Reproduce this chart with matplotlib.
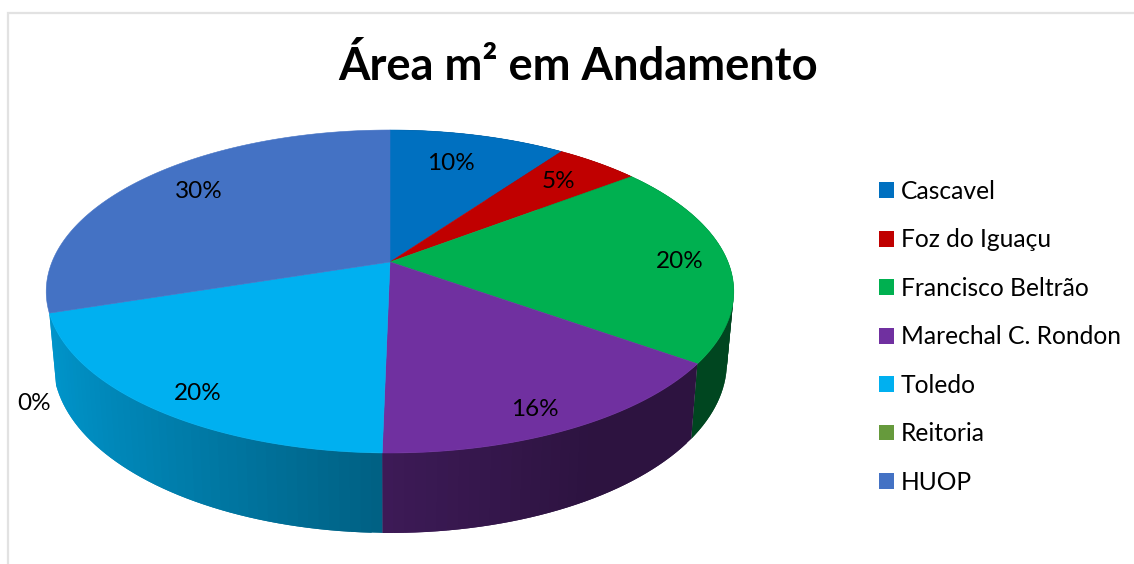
import numpy as np
import matplotlib.pyplot as plt
from matplotlib.patches import Patch

# dados
campi = ["Cascavel", "Foz do Iguaçu", "Francisco Beltrão", "Marechal C. Rondon", "Toledo", "Reitoria", "HUOP"]
area_pct = [9.9, 4.7, 20.3, 15.4, 19.7, 0.0, 30.0]
cores = ["#0070C0", "#C00000", "#00B050", "#7030A0", "#00B0F0", "#669A3C", "#4472C4"]
rotulos = ["10%", "5%", "20%", "16%", "20%", "0%", "30%"]

# posicao dos rotulos em pixels
rotulo_x = [451, 558, 680, 535, 198, 34, 199]
rotulo_y = [163, 181, 261, 410, 393, 404, 191]

# geometria do disco em perspectiva
CX, CY = 390, 262
A, B, K = 338, 156.1, 0.1827
S = 0.98    # encolhimento horizontal da base
H0, H1 = 69.4, 0.0555   # altura da parede cresce para perto do observador


def topo(ang):
    # ang em radianos, medido a partir do topo no sentido horario
    x = np.sin(ang)
    y = np.cos(ang)
    w = 1 + K * y
    return CX + A * x / w, CY - B * y / w


def base(px, py):
    return CX + S * (px - CX), py + H0 + H1 * (py - CY)


def sombra(ang):
    return np.interp(np.sin(ang), [-1, 0, 0.5, 1], [0.86, 0.54, 0.40, 0.40])


fig = plt.figure(figsize=(11.34, 5.64), dpi=100)
ax = fig.add_axes([0, 0, 1, 1])
ax.set_xlim(0, 1134)
ax.set_ylim(564, 0)
ax.axis("off")

# moldura do grafico
ax.plot([8, 8, 1134], [564, 13, 13], color="#e2e2e2", lw=1.6, solid_joinstyle="miter")

lim = 2 * np.pi * np.cumsum([0] + area_pct) / sum(area_pct)
passo = np.radians(1.5)

# paredes laterais, faixa por faixa (cada faixa passa um pouco da seguinte)
# a ultima fatia fica atras, sua parede nao aparece
for i in range(len(campi) - 1):
    if area_pct[i] == 0:
        continue
    n = max(2, int((lim[i + 1] - lim[i]) / passo))
    angs = np.linspace(lim[i], lim[i + 1], n + 1)
    rgb = np.array(plt.matplotlib.colors.to_rgb(cores[i]))
    for j in range(n):
        a0 = angs[j]
        a1 = angs[min(j + 2, n)]
        x0, y0 = topo(a0)
        x1, y1 = topo(a1)
        x2, y2 = base(x1, y1)
        x3, y3 = base(x0, y0)
        c = rgb * sombra((angs[j] + angs[j + 1]) / 2)
        ax.fill([x0, x1, x2, x3], [y0, y1, y2, y3], color=c, lw=0, zorder=2)

# topo do disco
for i in range(len(campi)):
    if area_pct[i] == 0:
        continue
    angs = np.linspace(lim[i], lim[i + 1], 200)
    xs, ys = topo(angs)
    ax.fill(np.r_[CX, xs], np.r_[CY, ys], color=cores[i], lw=0.4, zorder=3)

fonte = "Lato"
for i in range(len(campi)):
    ax.text(rotulo_x[i], rotulo_y[i], rotulos[i], ha="center", va="center",
            fontsize=17.5, family=fonte, color="black", zorder=5)

ax.text(578, 66, "Área m² em Andamento", ha="center", va="center", fontsize=32.7,
        fontweight="bold", family=fonte, color="black")

handles = [Patch(facecolor=c, edgecolor="none") for c in cores]
ax.legend(handles, campi, loc="upper left", bbox_to_anchor=(879, 180), bbox_transform=ax.transData,
          frameon=False, prop={"family": fonte, "size": 17.7}, handlelength=0.61, handleheight=0.61,
          handletextpad=0.28, labelspacing=1.035, borderpad=0, borderaxespad=0)

plt.savefig("out.png", dpi=100)
